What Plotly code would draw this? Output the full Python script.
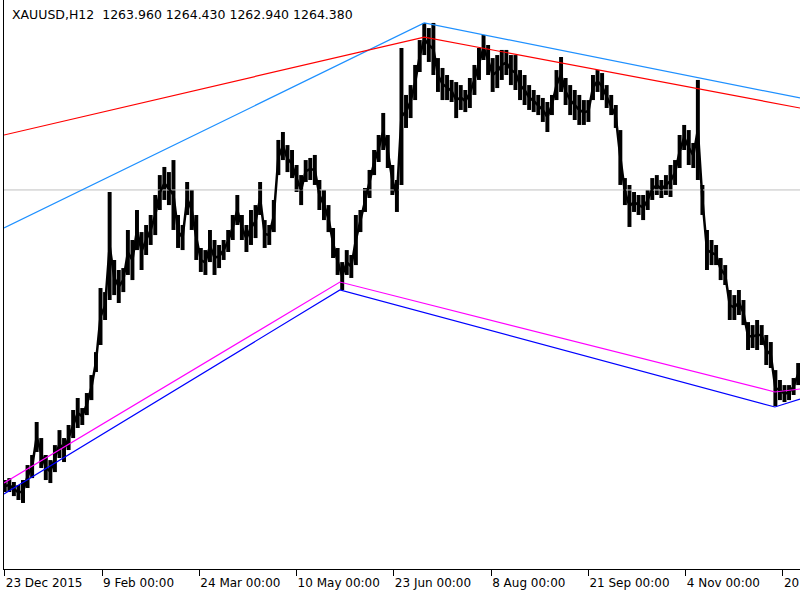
import plotly.graph_objects as go

# H12 bar groups (every 3 bars): high / low prices
highs = [1071,1072.3,1069.7,1067.7,1071,1081,1087.7,1109.7,1099,1087.7,
         1084.3,1094.3,1104.3,1099,1107.7,1117.7,1125.7,1119,1129,1141,
         1156.3,1199,1196.3,1263,1217.7,1211,1212.3,1237.7,1231,1251,
         1236.3,1241,1247.7,1261,1274.3,1279.7,1276.3,1284.3,1247.7,1241,
         1269.7,1264.3,1247.7,1225.7,1224.3,1237.7,1231,1227.7,1231,1237.7,
         1247.7,1261,1247.7,1241,1251,1254.3,1269.7,1244.3,1241,1257.7,
         1297.7,1303,1294.3,1291,1281,1274.3,1284.3,1285.7,1287.7,1271,
         1264.3,1254.3,1239,1225.7,1216.3,1224.3,1221,1247.7,1251,1265.7,
         1277.7,1291,1301,1315.7,1301,1281,1271,1359,1327.7,1334.3,
         1347.7,1364.3,1375.7,1372.3,1375.7,1352.3,1345.7,1341,1337.7,1336.3,
         1334.3,1331,1339,1347.7,1359,1367.7,1361,1352.3,1354.3,1357.7,
         1357.7,1354.3,1354.3,1344.3,1341,1334.3,1331,1327.7,1325.7,1323,
         1327.7,1344.3,1353,1339,1334.3,1331,1327.7,1324.3,1324.3,1341,
         1344.3,1342.3,1334.3,1327.7,1321,1304.3,1272.3,1267.7,1263,1261,
         1261,1264.3,1272.3,1274.3,1271,1274.3,1281,1284.3,1301,1307.7,
         1304.3,1295.7,1337.7,1267.7,1237.7,1231,1227.7,1219,1214.3,1197.7,
         1194.3,1197.7,1191,1176.3,1174.3,1177.7,1174.3,1167.7,1163,1144.3,
         1137.7,1134.3,1134.3,1139,1149]
lows = [1063,1063,1060.3,1057.7,1055.7,1065.7,1072.3,1089.7,1079,1071,
        1069,1076.3,1085.7,1083,1091,1099,1105.7,1107.7,1114.3,1124.3,
        1143,1161,1177.7,1191,1194.3,1189,1196.3,1207.7,1204.3,1224.3,
        1211,1221,1227.7,1234.3,1251,1257.7,1254.3,1237.7,1225.7,1224.3,
        1247.7,1237.7,1217.7,1209.7,1207.7,1216.3,1207.7,1212.3,1217.7,1223,
        1231,1241,1231,1223,1227.7,1232.3,1247.7,1225.7,1227.7,1236.3,
        1274.3,1284.3,1276.3,1272.3,1263,1254.3,1269.7,1271,1267.7,1251,
        1244.3,1236.3,1219,1207.7,1197.7,1207.7,1205.7,1214.3,1236.3,1249.7,
        1259,1274.3,1283,1291,1279,1261,1249.7,1267.7,1305.7,1312.3,
        1324.3,1343,1354.3,1349.7,1341,1329.7,1324.3,1324.3,1323,1312.3,
        1317.7,1316.3,1319,1327.7,1337.7,1351,1341,1329.7,1332.3,1337.7,
        1341,1334.3,1331,1324.3,1321,1317.7,1316.3,1314.3,1309.7,1303,
        1314.3,1324.3,1329.7,1321,1314.3,1311,1307.7,1307.7,1309.7,1324.3,
        1329.7,1324.3,1319,1314.3,1305.7,1267.7,1254.3,1239.7,1249.7,1247.7,
        1244.3,1251,1257.7,1261,1259,1261,1259.7,1267.7,1279,1291,
        1281,1279,1271,1247.7,1211,1214.3,1214.3,1204.3,1201,1177.7,
        1177.7,1181,1174.3,1157.7,1159,1157.7,1161,1147.7,1145.7,1120.3,
        1124.3,1123,1124.3,1127.7,1134.3]
bar_step = 3
bar_index = [i * bar_step for i in range(len(highs))]

# Time axis labels (every 64 H12 bars)
tick_index = [0, 64, 128, 192, 256, 320, 384, 448, 512]
tick_text = ["23 Dec 2015", "9 Feb 00:00", "24 Mar 00:00", "10 May 00:00",
             "23 Jun 00:00", "8 Aug 00:00", "21 Sep 00:00", "4 Nov 00:00",
             "20 Dec 00:00"]

# Channel lines (bar index, price)
x_min, x_max = -0.5, 523.2
upper_blue_x = [x_min, 276, x_max]
upper_blue_y = [1239, 1375.7, 1325.7]
upper_red_x = [x_min, 276, x_max]
upper_red_y = [1301, 1366.3, 1319]
lower_mag_x = [x_min, 220.5, 506.7, x_max]
lower_mag_y = [1069, 1203, 1129.7, 1131.7]
lower_blue_x = [x_min, 220.5, 506.7, x_max]
lower_blue_y = [1061.7, 1197.7, 1119.7, 1125]
bid_price = 1264.38
y_min, y_max = 1011.7, 1391.0

header = "XAUUSD,H12\u00a0\u00a01263.960\u00a01264.430\u00a01262.940\u00a01264.380"

mids = [(h + l) / 2 for h, l in zip(highs, lows)]

fig = go.Figure()
fig.add_trace(go.Scatter(x=[x_min, x_max], y=[bid_price, bid_price], mode="lines",
                         line=dict(color="#C0C0C0", width=1), hoverinfo="skip"))
fig.add_trace(go.Bar(x=bar_index, base=lows,
                     y=[h - l for h, l in zip(highs, lows)],
                     width=2.6, marker=dict(color="black", line=dict(width=0))))
fig.add_trace(go.Scatter(x=bar_index, y=mids, mode="lines",
                         line=dict(color="black", width=2.5)))
for xs, ys, col in [(upper_blue_x, upper_blue_y, "#1E90FF"),
                    (upper_red_x, upper_red_y, "#FF0000"),
                    (lower_mag_x, lower_mag_y, "#FF00FF"),
                    (lower_blue_x, lower_blue_y, "#0000FF")]:
    fig.add_trace(go.Scatter(x=xs, y=ys, mode="lines",
                             line=dict(color=col, width=1.2)))

fig.update_layout(
    width=800, height=600,
    margin=dict(l=4, r=0, t=0, b=31),
    paper_bgcolor="white", plot_bgcolor="white",
    showlegend=False,
    font=dict(family="DejaVu Sans", size=12, color="black"),
    xaxis=dict(range=[x_min, x_max], tickmode="array", tickvals=tick_index,
               ticktext=tick_text, ticks="outside", ticklen=6, tickcolor="black",
               showline=True, linecolor="black", linewidth=1, showgrid=False,
               zeroline=False, ticklabelposition="outside right",
               ticklabeloverflow="allow", tickangle=0, automargin=False,
               ticklabelstandoff=3,
               tickfont=dict(family="DejaVu Sans", size=12, color="black")),
    yaxis=dict(range=[y_min, y_max], showticklabels=False, ticks="",
               showline=True, linecolor="black", linewidth=1, showgrid=False,
               zeroline=False, automargin=False),
    annotations=[dict(text=header, xref="paper", yref="paper", x=0.0075, y=0.975,
                      xanchor="left", yanchor="middle", showarrow=False,
                      font=dict(family="DejaVu Sans", size=12.5, color="black"))],
)
fig.write_html("out.html")
